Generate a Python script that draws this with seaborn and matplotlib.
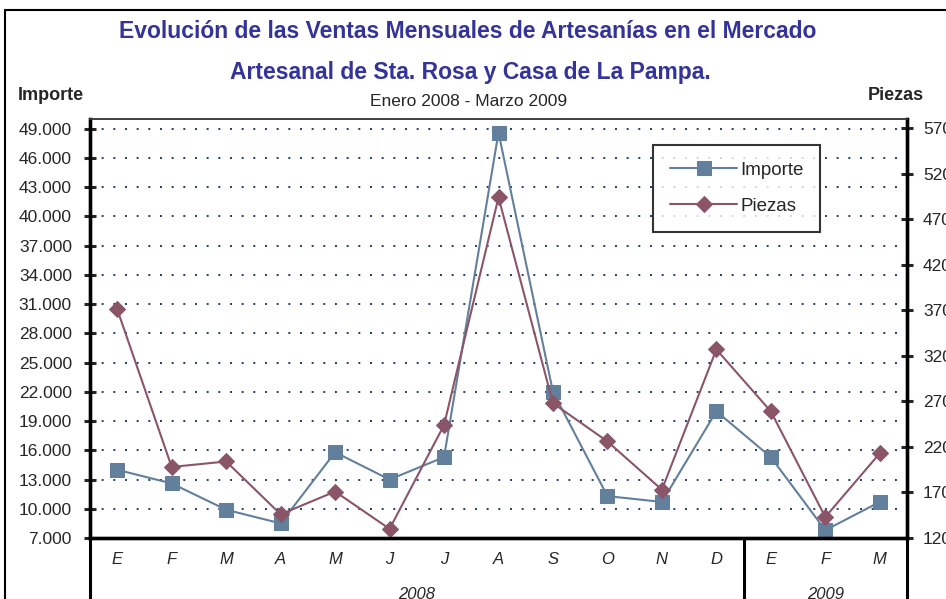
import matplotlib
matplotlib.use('Agg')
import matplotlib.pyplot as plt
import matplotlib.ticker as mticker
from matplotlib.lines import Line2D
import seaborn as sns
import pandas as pd

# datos
meses = ['E', 'F', 'M', 'A', 'M', 'J', 'J', 'A', 'S', 'O', 'N', 'D', 'E', 'F', 'M']
anios = ['2008'] * 12 + ['2009'] * 3
importe = [14000, 12600, 9900, 8500, 15800, 13000, 15300, 48600, 22000, 11300, 10700, 20000, 15300, 7800, 10700]
piezas = [371, 198, 204, 146, 171, 130, 244, 494, 268, 226, 173, 327, 259, 143, 213]
ticks_importe = list(range(7000, 49001, 3000))
ticks_piezas = list(range(120, 571, 50))

df = pd.DataFrame({'pos': range(len(meses)), 'mes': meses, 'anio': anios,
                   'Importe': importe, 'Piezas': piezas})

sns.set_style('white')
plt.rcParams['font.family'] = ['Liberation Sans', 'DejaVu Sans']

c_imp = '#62809b'
c_pie = '#8b5568'
azul = '#333399'

fig = plt.figure(figsize=(9.46, 5.99), dpi=100)
ax = fig.add_axes([90 / 946, 1 - 538 / 599, 817 / 946, 419 / 599])
ax2 = ax.twinx()

sns.lineplot(data=df, x='pos', y='Importe', ax=ax, color=c_imp, marker='s', markersize=9.5,
             linewidth=1.5, markeredgecolor=c_imp, label='Importe', legend=False)
sns.lineplot(data=df, x='pos', y='Piezas', ax=ax2, color=c_pie, marker='D', markersize=8.5,
             linewidth=1.5, markeredgecolor=c_pie, label='Piezas', legend=False)

n = len(meses)
ax.set_xlim(-0.5, n - 0.5)
ax.set_ylim(7000, 50000)
ax2.set_ylim(120, 580)
ax.set_yticks(ticks_importe)
ax2.set_yticks(ticks_piezas)
ax.yaxis.set_major_formatter(mticker.FuncFormatter(lambda v, p: f'{v:,.0f}'.replace(',', '.')))
ax.set_xlabel('')
ax.set_ylabel('')
ax2.set_ylabel('')

# rejilla punteada
for t in ticks_importe[1:]:
    ax.axhline(t, color='#1f3c6e', linewidth=1.4, linestyle=(0, (1, 5)), zorder=0)

# eje x de dos niveles
ax.set_xticks([i - 0.5 for i in range(n + 1)])
ax.set_xticklabels([])
ax.set_xticks(range(n), minor=True)
ax.set_xticklabels(meses, minor=True, style='italic', fontsize=12)
ax.tick_params(axis='x', which='major', direction='out', length=25, width=2.2, color='black')
ax.tick_params(axis='x', which='minor', length=0, pad=10)

limites = [0] + [i for i in range(1, n) if anios[i] != anios[i - 1]] + [n]
for b in limites:
    ax.plot([b - 0.5, b - 0.5], [0, -0.2], transform=ax.get_xaxis_transform(),
            color='black', linewidth=2.2, clip_on=False)
for a, b in zip(limites[:-1], limites[1:]):
    ax.text((a + b - 1) / 2, -0.135, anios[a], transform=ax.get_xaxis_transform(),
            ha='center', va='center', style='italic', fontsize=12)

ax.tick_params(axis='y', direction='inout', length=8, width=2.2, labelsize=12.5, pad=9, left=True)
ax2.tick_params(axis='y', direction='inout', length=8, width=2.2, labelsize=12.5, pad=7.5, right=True)

for a in (ax, ax2):
    for s in ('left', 'right', 'bottom'):
        a.spines[s].set_linewidth(2.4)
        a.spines[s].set_color('black')
    a.spines['top'].set_linewidth(1.2)
    a.spines['top'].set_color('#404040')

# leyenda
handles = ax.get_lines()[:1] + ax2.get_lines()[:1]
leg = ax2.legend(handles, ['Importe', 'Piezas'], loc='upper left', bbox_to_anchor=(0.689, 0.938),
                 fontsize=13.5, frameon=True, fancybox=False, edgecolor='black', borderaxespad=0,
                 borderpad=0.9, labelspacing=1.0, handlelength=3.6, handletextpad=0.15)
leg.get_frame().set_linewidth(1.5)

# titulos
fig.text(468 / 946, 1 - 31 / 599, 'Evolución de las Ventas Mensuales de Artesanías en el Mercado',
         ha='center', va='center', fontsize=16.5, fontweight='bold', color=azul)
fig.text(470 / 946, 1 - 73 / 599, 'Artesanal de Sta. Rosa y Casa de La Pampa.',
         ha='center', va='center', fontsize=16.5, fontweight='bold', color=azul)
fig.text(469 / 946, 1 - 101 / 599, 'Enero 2008 - Marzo 2009', ha='center', va='center', fontsize=12.5)
fig.text(18 / 946, 1 - 96 / 599, 'Importe', ha='left', va='center', fontsize=13, fontweight='bold')
fig.text(896 / 946, 1 - 96 / 599, 'Piezas', ha='center', va='center', fontsize=13, fontweight='bold')

# marco del grafico
fig.add_artist(Line2D([5 / 946, 5 / 946], [0, 1 - 10 / 599], transform=fig.transFigure, color='black', linewidth=1.5))
fig.add_artist(Line2D([5 / 946, 1], [1 - 10 / 599, 1 - 10 / 599], transform=fig.transFigure, color='black', linewidth=1.5))

plt.savefig('out.png', dpi=100)
